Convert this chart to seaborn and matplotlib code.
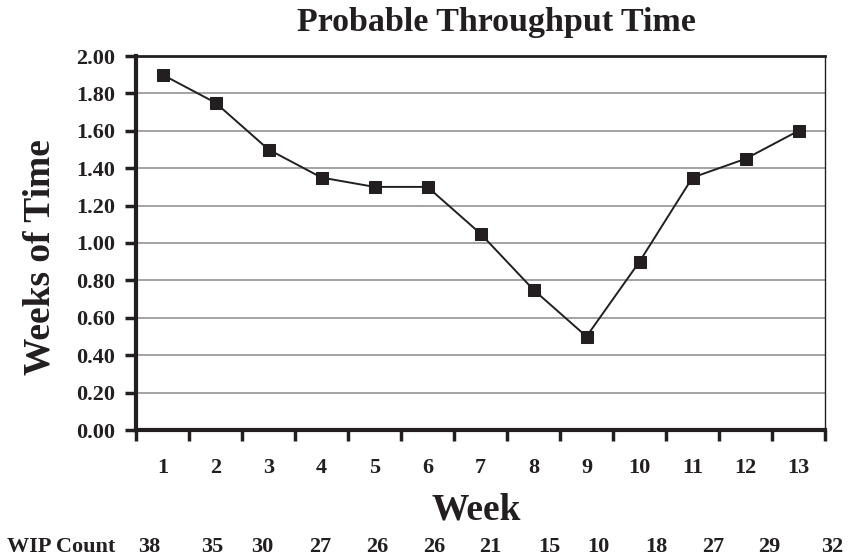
import matplotlib
matplotlib.use("Agg")
import matplotlib.pyplot as plt
import seaborn as sns
import pandas as pd
from matplotlib.ticker import FixedLocator, NullFormatter

weeks = [1, 2, 3, 4, 5, 6, 7, 8, 9, 10, 11, 12, 13]
throughput = [1.90, 1.75, 1.50, 1.35, 1.30, 1.30, 1.05, 0.75, 0.50, 0.90, 1.35, 1.45, 1.60]
wip_count = [38, 35, 30, 27, 26, 26, 21, 15, 10, 18, 27, 29, 32]
y_ticks = [0.0, 0.2, 0.4, 0.6, 0.8, 1.0, 1.2, 1.4, 1.6, 1.8, 2.0]

# layout (pixel x-centres of the WIP numbers in the row under the chart)
wip_x_px = [149, 212, 262, 320, 377, 434, 490, 549, 598, 656, 713, 769, 832]

sns.set_style("white")
plt.rcParams['font.family'] = ['Liberation Serif', 'DejaVu Serif']
plt.rcParams['font.weight'] = 'bold'
INK = '#231f20'

W, H = 856, 557
fig = plt.figure(figsize=(W / 100, H / 100), dpi=100)
ax = fig.add_axes([136 / W, 1 - 430 / H, 689 / W, 374 / H])

df = pd.DataFrame({"Week": weeks, "Weeks of Time": throughput})
sns.lineplot(data=df, x="Week", y="Weeks of Time", ax=ax, color=INK, linewidth=1.4,
             marker='s', markersize=9, markeredgecolor=INK, markerfacecolor=INK, zorder=5)

ax.set_xlim(0.5, 13.5)
ax.set_ylim(0, 2.0)
ax.set_yticks(y_ticks)
ax.set_yticklabels([f"{v:.2f}" for v in y_ticks])
ax.yaxis.grid(True, color='#8a8a8a', linewidth=1.1)
ax.set_axisbelow(True)

ax.xaxis.set_major_locator(FixedLocator([w - 0.5 for w in weeks] + [13.5]))
ax.xaxis.set_major_formatter(NullFormatter())
ax.xaxis.set_minor_locator(FixedLocator(weeks))
ax.set_xticklabels([str(w) for w in weeks], minor=True)

ax.tick_params(axis='x', which='major', direction='out', length=8, width=2.5, color=INK, bottom=True)
ax.tick_params(axis='x', which='minor', length=0, pad=20, labelsize=16, labelcolor=INK, bottom=True)
ax.tick_params(axis='y', which='major', direction='out', length=8, width=2.5, color=INK,
               pad=7, labelsize=16, labelcolor=INK, left=True)

for side in ['left', 'bottom']:
    ax.spines[side].set_linewidth(3)
    ax.spines[side].set_color(INK)
ax.spines['top'].set_linewidth(2)
ax.spines['top'].set_color(INK)
ax.spines['right'].set_linewidth(1)
ax.spines['right'].set_color(INK)
for s in ax.spines.values():
    s.set_visible(True)

ax.set_xlabel("")
ax.set_ylabel("")

fig.text(496 / W, 1 - 31 / H, "Probable Throughput Time", ha='center', va='baseline',
         fontsize=24.5, fontweight='bold', color=INK)
fig.text(476 / W, 1 - 520 / H, "Week", ha='center', va='baseline',
         fontsize=27, fontweight='bold', color=INK)
fig.text(50 / W, 1 - 257 / H, "Weeks of Time", ha='center', va='baseline', rotation=90,
         rotation_mode='anchor', fontsize=27, fontweight='bold', color=INK)

fig.text(7 / W, 1 - 552 / H, "WIP Count", ha='left', va='baseline',
         fontsize=16, fontweight='bold', color=INK)
for xp, v in zip(wip_x_px, wip_count):
    fig.text(xp / W, 1 - 552 / H, str(v), ha='center', va='baseline',
             fontsize=16, fontweight='bold', color=INK)

fig.savefig("out.png", dpi=100)
